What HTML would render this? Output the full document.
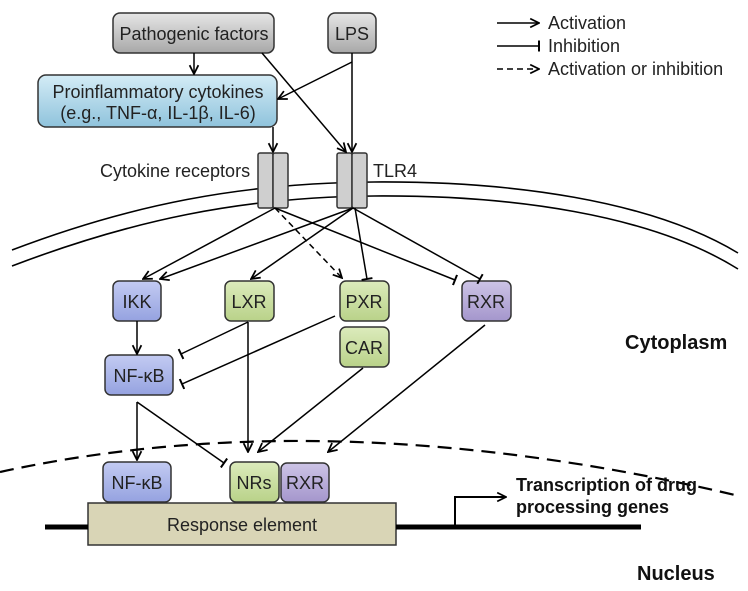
<!DOCTYPE html>
<html><head><meta charset="utf-8"><style>
body{margin:0;background:#fff}
svg{display:block;font-family:"Liberation Sans",Arial,sans-serif}
</style></head><body>
<svg width="748" height="591" viewBox="0 0 748 591" xmlns="http://www.w3.org/2000/svg">
<defs>
<marker id="a" viewBox="0 0 10 10" refX="9" refY="5" markerWidth="11" markerHeight="11" markerUnits="userSpaceOnUse" orient="auto"><path d="M1,1 L9,5 L1,9" fill="none" stroke="#000" stroke-width="1.6"/></marker>
<marker id="t" viewBox="0 0 10 10" refX="5" refY="5" markerWidth="11" markerHeight="11" markerUnits="userSpaceOnUse" orient="auto"><path d="M5,0 L5,10" stroke="#000" stroke-width="1.8"/></marker>
<linearGradient id="gg" x1="0" y1="0" x2="0" y2="1"><stop offset="0" stop-color="#e6e6e6"/><stop offset="1" stop-color="#a8a8a8"/></linearGradient>
<linearGradient id="gc" x1="0" y1="0" x2="0" y2="1"><stop offset="0" stop-color="#d4ecf6"/><stop offset="1" stop-color="#8fc3dc"/></linearGradient>
<linearGradient id="gb" x1="0" y1="0" x2="0" y2="1"><stop offset="0" stop-color="#c3cbf2"/><stop offset="1" stop-color="#95a2e0"/></linearGradient>
<linearGradient id="gn" x1="0" y1="0" x2="0" y2="1"><stop offset="0" stop-color="#dcebbc"/><stop offset="1" stop-color="#b9d289"/></linearGradient>
<linearGradient id="gp" x1="0" y1="0" x2="0" y2="1"><stop offset="0" stop-color="#cdc4e6"/><stop offset="1" stop-color="#a496cc"/></linearGradient>
</defs>
<g fill="none" stroke="#000" stroke-width="1.6">
<path d="M12,250 C130,205 240,183 374,182 C510,181 650,200 738,253"/>
<path d="M12,266 C130,221 240,197 374,196 C510,195 650,214 738,269"/>
<path d="M0,472 Q330,400 735,495" stroke-dasharray="14,8" stroke-width="2.2"/>
</g>
<g stroke="#333" stroke-width="1.5" fill="#cfcfcf">
<rect x="258" y="153" width="15" height="55" rx="2"/><rect x="273" y="153" width="15" height="55" rx="2"/>
<rect x="337" y="153" width="15" height="55" rx="2"/><rect x="352" y="153" width="15" height="55" rx="2"/>
</g>
<g stroke="#333" stroke-width="1.5">
<rect x="113" y="13" width="161" height="40" rx="7" fill="url(#gg)"/>
<rect x="328" y="13" width="48" height="40" rx="7" fill="url(#gg)"/>
<rect x="38" y="75" width="239" height="52" rx="8" fill="url(#gc)"/>
<rect x="113" y="281" width="48" height="40" rx="6" fill="url(#gb)"/>
<rect x="225" y="281" width="49" height="40" rx="6" fill="url(#gn)"/>
<rect x="340" y="281" width="49" height="40" rx="6" fill="url(#gn)"/>
<rect x="340" y="327" width="49" height="40" rx="6" fill="url(#gn)"/>
<rect x="462" y="281" width="49" height="40" rx="6" fill="url(#gp)"/>
<rect x="105" y="355" width="68" height="40" rx="6" fill="url(#gb)"/>
<rect x="88" y="503" width="308" height="42" fill="#d9d5b6"/>
<rect x="103" y="462" width="68" height="40" rx="6" fill="url(#gb)"/>
<rect x="230" y="462" width="49" height="40" rx="6" fill="url(#gn)"/>
<rect x="281" y="463" width="48" height="39" rx="6" fill="url(#gp)"/>
</g>
<line x1="45" y1="527" x2="88" y2="527" stroke="#000" stroke-width="5"/>
<line x1="396" y1="527" x2="641" y2="527" stroke="#000" stroke-width="5"/>
<path d="M455,527 L455,497 L506,497" fill="none" stroke="#000" stroke-width="2" marker-end="url(#a)"/>
<g stroke="#000" stroke-width="1.5" fill="none">
<line x1="194" y1="53" x2="194" y2="74" marker-end="url(#a)"/>
<line x1="262" y1="53" x2="346" y2="152" marker-end="url(#a)"/>
<line x1="352" y1="53" x2="352" y2="152" marker-end="url(#a)"/>
<line x1="352" y1="62" x2="278" y2="99" marker-end="url(#a)"/>
<line x1="273" y1="127" x2="273" y2="152" marker-end="url(#a)"/>
<line x1="275" y1="208" x2="143" y2="279" marker-end="url(#a)"/>
<line x1="275" y1="208" x2="342" y2="278" stroke-dasharray="6,4" marker-end="url(#a)"/>
<line x1="275" y1="208" x2="455" y2="280" marker-end="url(#t)"/>
<line x1="353" y1="208" x2="160" y2="279" marker-end="url(#a)"/>
<line x1="353" y1="208" x2="251" y2="279" marker-end="url(#a)"/>
<line x1="355" y1="208" x2="367" y2="279" marker-end="url(#t)"/>
<line x1="353" y1="208" x2="480" y2="279" marker-end="url(#t)"/>
<line x1="137" y1="321" x2="137" y2="354" marker-end="url(#a)"/>
<line x1="248" y1="322" x2="181" y2="354" marker-end="url(#t)"/>
<line x1="248" y1="322" x2="248" y2="452" marker-end="url(#a)"/>
<line x1="335" y1="316" x2="182" y2="384" marker-end="url(#t)"/>
<line x1="363" y1="368" x2="258" y2="452" marker-end="url(#a)"/>
<line x1="485" y1="325" x2="328" y2="452" marker-end="url(#a)"/>
<line x1="137" y1="402" x2="137" y2="460" marker-end="url(#a)"/>
<line x1="137" y1="402" x2="224" y2="463" marker-end="url(#t)"/>
<line x1="497" y1="23" x2="539" y2="23" marker-end="url(#a)"/>
<line x1="497" y1="46" x2="539" y2="46" marker-end="url(#t)"/>
<line x1="497" y1="69" x2="539" y2="69" stroke-dasharray="6,4" marker-end="url(#a)"/>
</g>
<g font-size="18" fill="#222" text-anchor="middle">
<text x="194" y="40">Pathogenic factors</text>
<text x="352" y="40">LPS</text>
<text x="158" y="98">Proinflammatory cytokines</text>
<text x="158" y="119">(e.g., TNF-α, IL-1β, IL-6)</text>
<text x="137" y="308">IKK</text>
<text x="249" y="308">LXR</text>
<text x="364" y="308">PXR</text>
<text x="364" y="354">CAR</text>
<text x="486" y="308">RXR</text>
<text x="139" y="382">NF-κB</text>
<text x="137" y="489">NF-κB</text>
<text x="254" y="489">NRs</text>
<text x="305" y="489">RXR</text>
<text x="242" y="531">Response element</text>
</g>
<g font-size="18" fill="#222">
<text x="100" y="177">Cytokine receptors</text>
<text x="373" y="177">TLR4</text>
<text x="548" y="29">Activation</text>
<text x="548" y="52">Inhibition</text>
<text x="548" y="75">Activation or inhibition</text>
</g>
<g font-weight="bold" fill="#111">
<text x="516" y="491" font-size="18">Transcription of drug</text>
<text x="516" y="513" font-size="18">processing genes</text>
<text x="625" y="349" font-size="20">Cytoplasm</text>
<text x="637" y="580" font-size="20">Nucleus</text>
</g>
</svg>
</body></html>
